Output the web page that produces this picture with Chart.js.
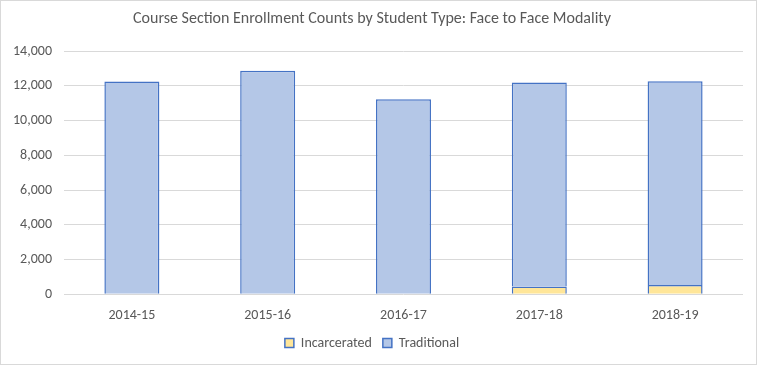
<!DOCTYPE html>
<html>
<head>
<meta charset="utf-8">
<script src="https://cdn.jsdelivr.net/npm/chart.js@4/dist/chart.umd.min.js"></script>
<style>
  body { margin: 0; background: #fff; }
  #wrap { width: 755px; height: 363px; border: 1px solid #d9d9d9; }
</style>
</head>
<body>
<div id="wrap"><canvas id="enrollChart" width="755" height="363"></canvas></div>
<script>
// values
const years = ["2014-15", "2015-16", "2016-17", "2017-18", "2018-19"];
const incarcerated = [0, 0, 30, 440, 535];
const traditional = [12250, 12870, 11200, 11755, 11735];
const yTicks = [0, 2000, 4000, 6000, 8000, 10000, 12000, 14000];

const font = "Calibri, Carlito, 'Open Sans', sans-serif";
const grey = "#595959";

let chart = new Chart(document.querySelector("#enrollChart"), {
  type: "bar",
  data: {
    labels: years,
    datasets: [
      {
        label: "Incarcerated",
        data: incarcerated,
        backgroundColor: "#ffe699",
        borderColor: "#4472c4",
        borderWidth: 1.5,
      },
      {
        label: "Traditional",
        data: traditional,
        backgroundColor: "#b4c7e7",
        borderColor: "#4472c4",
        borderWidth: 1.5,
      },
    ],
  },
  options: {
    responsive: false,
    animation: false,
    barPercentage: 0.405,
    categoryPercentage: 1,
    layout: { padding: { left: 0, right: 13, top: 2, bottom: 4 } },
    plugins: {
      title: {
        display: true,
        text: "Course Section Enrollment Counts by Student Type: Face to Face Modality",
        color: grey,
        font: { family: font, size: 16, weight: "normal" },
        padding: { top: 6, bottom: 23 },
      },
      legend: {
        position: "bottom",
        labels: {
          color: grey,
          font: { family: font, size: 14 },
          boxWidth: 9,
          boxHeight: 9,
          padding: 11,
        },
      },
      tooltip: { enabled: false },
    },
    scales: {
      x: {
        stacked: true,
        grid: { display: false },
        border: { display: false },
        ticks: { color: grey, font: { family: font, size: 14 }, padding: 5 },
        afterFit: (scale) => {
          scale.height -= 4;
        },
      },
      y: {
        stacked: true,
        min: 0,
        max: 14000,
        afterBuildTicks: (axis) => {
          axis.ticks = yTicks.map((v) => ({ value: v }));
        },
        grid: { color: "#d9d9d9", drawTicks: false, lineWidth: 1 },
        border: { display: false },
        ticks: {
          color: grey,
          font: { family: font, size: 14 },
          padding: 12,
          callback: (v) => v.toLocaleString("en-US"),
        },
      },
    },
  },
});
</script>
</body>
</html>
